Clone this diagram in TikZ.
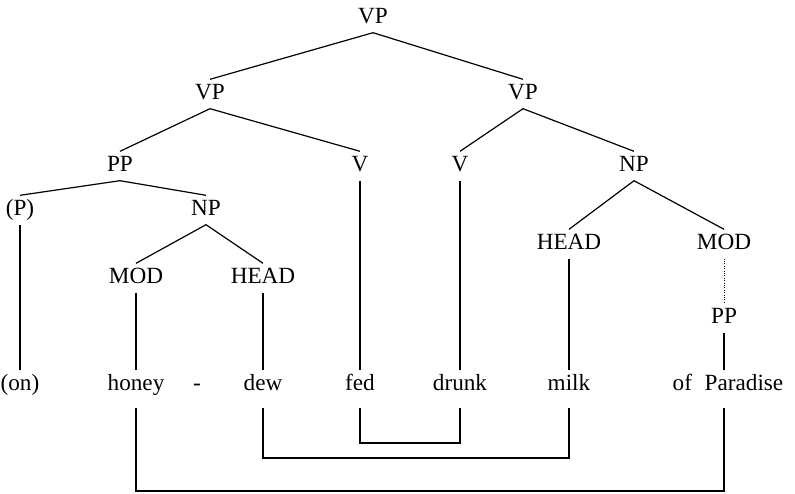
\documentclass[tikz,border=0pt]{standalone}
\usepackage{fontspec}
\setmainfont{Liberation Serif}
\usepackage{tikz}

\tikzset{
    cat/.style={inner sep=3pt, text height=11pt, text depth=3.5pt,
                font=\rmfamily\fontsize{16.5}{19}\selectfont},
    word/.style={cat},
    branch/.style={line width=0.85pt},
    link/.style={line width=0.85pt}
}

\begin{document}
\begin{tikzpicture}[x=0.025cm, y=-0.025cm]
    \useasboundingbox (0,0) rectangle (795,493);

    % categories, top to bottom
    \node[cat] (vp)    at (373,18)  {VP};
    \node[cat] (vpL)   at (210,94)  {VP};
    \node[cat] (vpR)   at (523,94)  {VP};
    \node[cat] (pp)    at (120,166) {PP};
    \node[cat] (vL)    at (360,166) {V};
    \node[cat] (vR)    at (460,166) {V};
    \node[cat] (npR)   at (634,166) {NP};
    \node[cat] (p)     at (20,210)  {(P)};
    \node[cat] (npL)   at (206,210) {NP};
    \node[cat] (modL)  at (136,278) {MOD};
    \node[cat] (headL) at (263,278) {HEAD};
    \node[cat] (headR) at (569,244) {HEAD};
    \node[cat] (modR)  at (724,244) {MOD};
    \node[cat] (ppR)   at (724,318) {PP};

    % the words
    \node[word] (on)    at (20,385)  {(on)};
    \node[word] (honey) at (136,385) {honey};
    \node[word] (dash)  at (197,385) {-};
    \node[word] (dew)   at (263,385) {dew};
    \node[word] (fed)   at (360,385) {fed};
    \node[word] (drunk) at (460,385) {drunk};
    \node[word] (milk)  at (569,385) {milk};
    \node[word] (ofpar) at (728,385) {of\hspace{9pt}Paradise};

    % tree branches
    \draw[branch] (vp.south) -- (vpL.north);
    \draw[branch] (vp.south) -- (vpR.north);
    \draw[branch] (vpL.south) -- (pp.north);
    \draw[branch] (vpL.south) -- (vL.north);
    \draw[branch] (vpR.south) -- (vR.north);
    \draw[branch] (vpR.south) -- (npR.north);
    \draw[branch] (pp.south) -- (p.north);
    \draw[branch] (pp.south) -- (npL.north);
    \draw[branch] (npL.south) -- (modL.north);
    \draw[branch] (npL.south) -- (headL.north);
    \draw[branch] (npR.south) -- (headR.north);
    \draw[branch] (npR.south) -- (modR.north);

    % down to the words
    \draw[branch] (p.south) -- (on.north);
    \draw[branch] (modL.south) -- (honey.north);
    \draw[branch] (headL.south) -- (dew.north);
    \draw[branch] (vL.south) -- (fed.north);
    \draw[branch] (vR.south) -- (drunk.north);
    \draw[branch] (headR.south) -- (milk.north);
    \draw[line width=0.7pt, densely dotted] (modR.south) -- (ppR.north);
    \draw[branch] (ppR.south) -- (ppR |- ofpar.north);

    % links under the words
    \coordinate (low1) at (0,443);
    \coordinate (low2) at (0,458);
    \coordinate (low3) at (0,491);
    \draw[link] ([yshift=-6pt]fed.south) -- (fed |- low1) -- (drunk |- low1) -- ([yshift=-6pt]drunk.south);
    \draw[link] ([yshift=-6pt]dew.south) -- (dew |- low2) -- (milk |- low2) -- ([yshift=-6pt]milk.south);
    \draw[link] ([yshift=-6pt]honey.south) -- (honey |- low3) -- (ppR |- low3) -- ([yshift=-6pt]ofpar.south -| ppR);
\end{tikzpicture}
\end{document}
